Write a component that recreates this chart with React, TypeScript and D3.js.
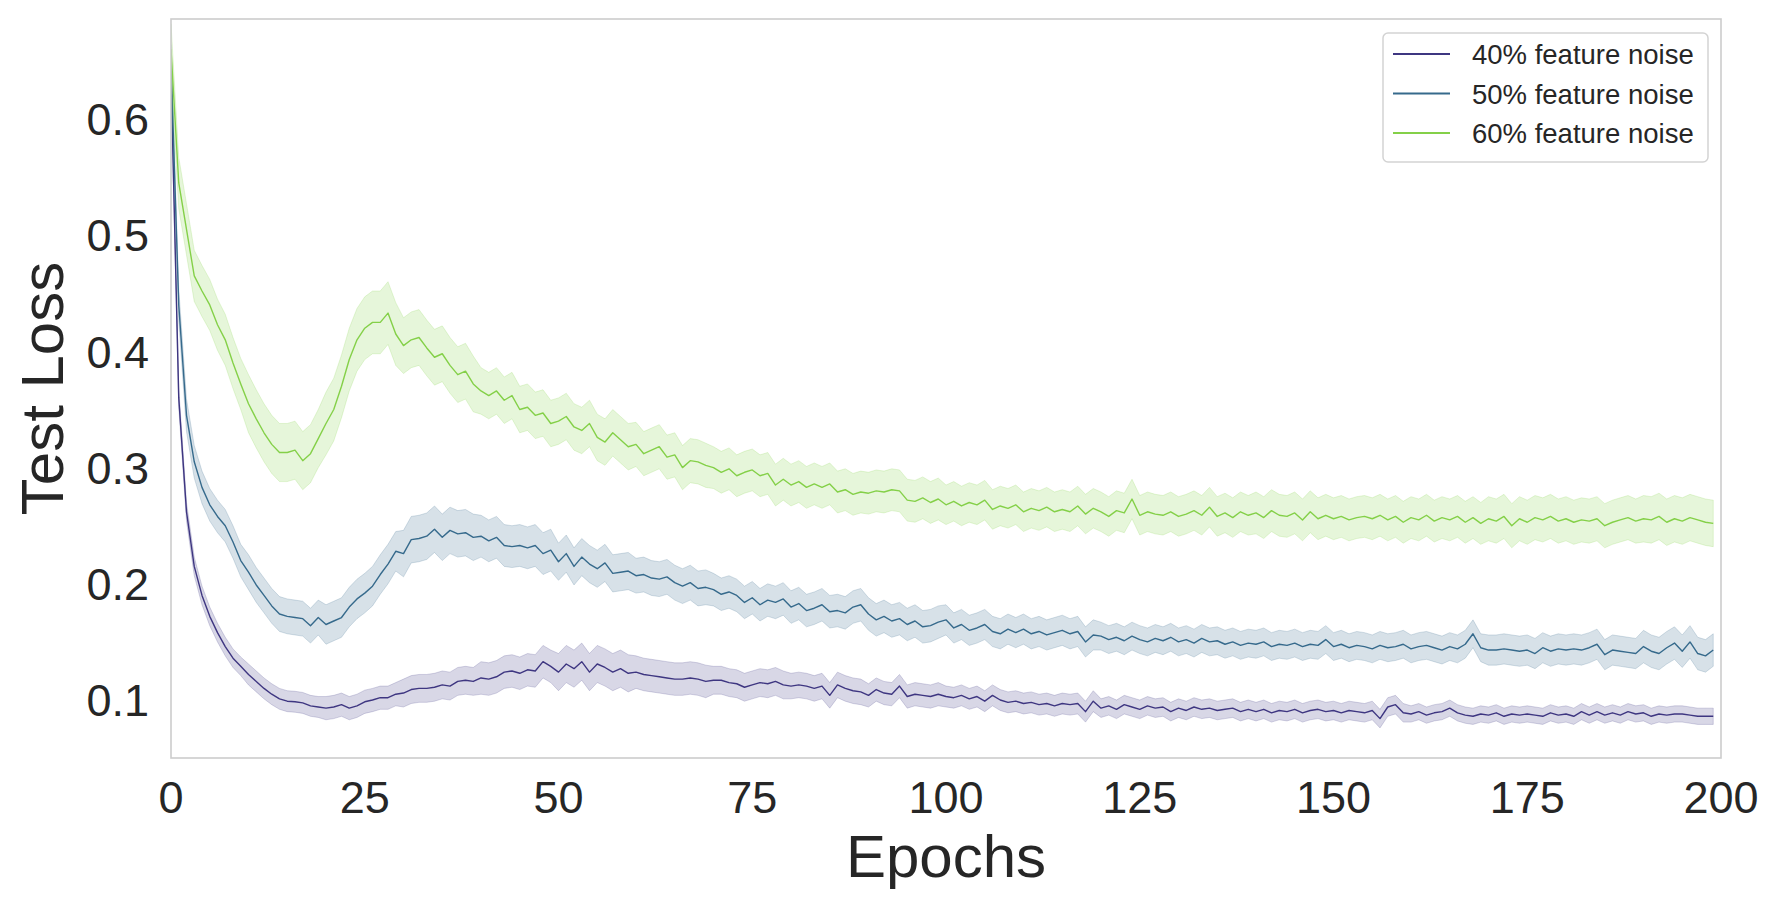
import React from "react";
import * as d3 from "d3";

// epochs 0..199, mean test loss per run
const loss40 = [
  0.640, 0.360, 0.262, 0.215, 0.190, 0.172, 0.158, 0.146, 0.136, 0.129,
  0.122, 0.116, 0.110, 0.105, 0.101, 0.099, 0.0985, 0.0975, 0.095, 0.094,
  0.093, 0.094, 0.096, 0.093, 0.095, 0.0985, 0.100, 0.102, 0.102, 0.105,
  0.106, 0.109, 0.110, 0.110, 0.111, 0.113, 0.112, 0.116, 0.117, 0.116,
  0.119, 0.118, 0.120, 0.124, 0.125, 0.123, 0.126, 0.125, 0.133, 0.129,
  0.124, 0.131, 0.127, 0.133, 0.124, 0.131, 0.128, 0.124, 0.127, 0.123,
  0.124, 0.122, 0.121, 0.120, 0.119, 0.118, 0.118, 0.119, 0.118, 0.116,
  0.117, 0.117, 0.115, 0.114, 0.111, 0.113, 0.115, 0.114, 0.116, 0.113,
  0.112, 0.113, 0.112, 0.110, 0.112, 0.104, 0.113, 0.110, 0.108, 0.107,
  0.104, 0.109, 0.106, 0.105, 0.112, 0.103, 0.105, 0.104, 0.103, 0.105,
  0.103, 0.102, 0.104, 0.101, 0.103, 0.099, 0.104, 0.100, 0.098, 0.099,
  0.097, 0.098, 0.096, 0.097, 0.095, 0.097, 0.096, 0.097, 0.090, 0.099,
  0.093, 0.095, 0.092, 0.096, 0.094, 0.092, 0.095, 0.093, 0.094, 0.090,
  0.093, 0.091, 0.094, 0.092, 0.093, 0.091, 0.092, 0.093, 0.090, 0.092,
  0.090, 0.092, 0.089, 0.091, 0.090, 0.092, 0.089, 0.091, 0.092, 0.090,
  0.091, 0.089, 0.091, 0.090, 0.089, 0.091, 0.084, 0.094, 0.096, 0.089,
  0.088, 0.090, 0.087, 0.089, 0.090, 0.093, 0.089, 0.087, 0.086, 0.088,
  0.087, 0.089, 0.086, 0.088, 0.087, 0.088, 0.087, 0.086, 0.089, 0.087,
  0.088, 0.086, 0.090, 0.087, 0.090, 0.087, 0.089, 0.087, 0.090, 0.088,
  0.089, 0.086, 0.088, 0.087, 0.088, 0.088, 0.087, 0.086, 0.086, 0.086,
];

const loss50 = [
  0.650, 0.440, 0.345, 0.305, 0.283, 0.268, 0.258, 0.250, 0.236, 0.220,
  0.210, 0.199, 0.190, 0.181, 0.174, 0.172, 0.171, 0.170, 0.164, 0.171,
  0.165, 0.168, 0.171, 0.180, 0.187, 0.192, 0.198, 0.208, 0.217, 0.228,
  0.226, 0.238, 0.239, 0.241, 0.247, 0.240, 0.246, 0.243, 0.244, 0.240,
  0.241, 0.237, 0.240, 0.233, 0.232, 0.233, 0.231, 0.233, 0.226, 0.229,
  0.219, 0.226, 0.215, 0.223, 0.217, 0.213, 0.218, 0.209, 0.210, 0.211,
  0.207, 0.208, 0.205, 0.204, 0.206, 0.201, 0.198, 0.201, 0.196, 0.197,
  0.195, 0.191, 0.193, 0.190, 0.184, 0.188, 0.182, 0.186, 0.184, 0.187,
  0.180, 0.183, 0.177, 0.179, 0.182, 0.176, 0.177, 0.175, 0.180, 0.182,
  0.174, 0.169, 0.172, 0.168, 0.170, 0.165, 0.168, 0.163, 0.164, 0.167,
  0.169, 0.162, 0.165, 0.160, 0.162, 0.165, 0.159, 0.157, 0.161, 0.158,
  0.161, 0.157, 0.159, 0.156, 0.158, 0.160, 0.157, 0.159, 0.150, 0.156,
  0.155, 0.152, 0.154, 0.151, 0.155, 0.152, 0.150, 0.153, 0.151, 0.154,
  0.150, 0.152, 0.149, 0.153, 0.150, 0.151, 0.148, 0.150, 0.147, 0.149,
  0.148, 0.150, 0.146, 0.148, 0.147, 0.149, 0.146, 0.148, 0.147, 0.152,
  0.146, 0.148, 0.145, 0.147, 0.146, 0.144, 0.147, 0.145, 0.146, 0.148,
  0.144, 0.146, 0.147, 0.145, 0.143, 0.146, 0.144, 0.148, 0.157, 0.145,
  0.143, 0.143, 0.144, 0.143, 0.142, 0.143, 0.140, 0.145, 0.142, 0.144,
  0.143, 0.144, 0.143, 0.145, 0.148, 0.139, 0.143, 0.142, 0.141, 0.140,
  0.146, 0.142, 0.140, 0.145, 0.149, 0.142, 0.150, 0.140, 0.138, 0.143,
];

const loss60 = [
  0.660, 0.545, 0.505, 0.465, 0.452, 0.440, 0.423, 0.410, 0.390, 0.372,
  0.355, 0.342, 0.330, 0.320, 0.313, 0.313, 0.315, 0.306, 0.312, 0.325,
  0.338, 0.350, 0.370, 0.393, 0.410, 0.420, 0.425, 0.425, 0.433, 0.415,
  0.405, 0.410, 0.412, 0.403, 0.395, 0.398, 0.388, 0.380, 0.383, 0.372,
  0.366, 0.362, 0.366, 0.358, 0.362, 0.350, 0.352, 0.345, 0.347, 0.338,
  0.340, 0.344, 0.335, 0.332, 0.338, 0.326, 0.322, 0.330, 0.324, 0.318,
  0.320, 0.312, 0.315, 0.318, 0.309, 0.311, 0.300, 0.306, 0.305, 0.302,
  0.300, 0.296, 0.299, 0.293, 0.296, 0.298, 0.293, 0.295, 0.285, 0.290,
  0.285, 0.288, 0.283, 0.286, 0.283, 0.286, 0.279, 0.281, 0.277, 0.279,
  0.278, 0.280, 0.279, 0.281, 0.280, 0.272, 0.271, 0.274, 0.270, 0.273,
  0.268, 0.271, 0.267, 0.270, 0.268, 0.272, 0.264, 0.267, 0.265, 0.268,
  0.262, 0.265, 0.263, 0.266, 0.262, 0.264, 0.262, 0.267, 0.260, 0.265,
  0.262, 0.258, 0.263, 0.261, 0.273, 0.259, 0.262, 0.260, 0.259, 0.262,
  0.258, 0.260, 0.263, 0.259, 0.266, 0.258, 0.261, 0.257, 0.262, 0.259,
  0.261, 0.257, 0.263, 0.259, 0.258, 0.261, 0.255, 0.262, 0.256, 0.259,
  0.256, 0.258, 0.255, 0.257, 0.258, 0.256, 0.259, 0.255, 0.258, 0.253,
  0.257, 0.255, 0.259, 0.254, 0.257, 0.255, 0.258, 0.253, 0.257, 0.252,
  0.256, 0.254, 0.258, 0.250, 0.256, 0.253, 0.257, 0.255, 0.258, 0.254,
  0.256, 0.253, 0.255, 0.254, 0.256, 0.250, 0.253, 0.255, 0.257, 0.254,
  0.256, 0.255, 0.258, 0.253, 0.256, 0.254, 0.257, 0.255, 0.253, 0.252,
];

// half width of the shaded band, one value per block of 10 epochs
const band40 = [0.008, 0.009, 0.010, 0.012, 0.014, 0.016, 0.014, 0.012, 0.011, 0.010,
  0.009, 0.009, 0.008, 0.008, 0.008, 0.008, 0.007, 0.007, 0.007, 0.007];
const band50 = [0.014, 0.015, 0.017, 0.020, 0.018, 0.016, 0.015, 0.014, 0.014, 0.014,
  0.013, 0.013, 0.012, 0.012, 0.012, 0.012, 0.012, 0.013, 0.013, 0.014];
const band60 = [0.022, 0.025, 0.027, 0.024, 0.020, 0.020, 0.019, 0.018, 0.018, 0.018,
  0.017, 0.017, 0.017, 0.017, 0.018, 0.018, 0.018, 0.019, 0.019, 0.020];

const seriesNames = ["40% feature noise", "50% feature noise", "60% feature noise"];
const seriesColors = ["#3e3681", "#366a8c", "#84d048"];
const xTicks = [0, 25, 50, 75, 100, 125, 150, 175, 200];
const yTicks = [0.1, 0.2, 0.3, 0.4, 0.5, 0.6];

const W = 1780;
const H = 907;
const margin = { left: 171, right: 59, top: 19, bottom: 149 };
const FONT = "'Liberation Sans', Arial, sans-serif";

type Pt = { x: number; y: number; lo: number; hi: number };

export default function App() {
  const x = d3.scaleLinear().domain([0, 200]).range([margin.left, W - margin.right]);
  const y = d3.scaleLinear().domain([0.0501, 0.6861]).range([H - margin.bottom, margin.top]);

  const all = [loss40, loss50, loss60];
  const bands = [band40, band50, band60];
  const series: Pt[][] = all.map((arr, k) =>
    arr.map((v, i) => {
      const h = bands[k][Math.floor(i / 10)];
      return { x: i, y: v, lo: v - h, hi: v + h };
    })
  );

  const line = d3.line<Pt>().x(d => x(d.x)).y(d => y(d.y));
  const area = d3.area<Pt>().x(d => x(d.x)).y0(d => y(d.lo)).y1(d => y(d.hi));

  const [x0, x1] = x.range();
  const [y0, y1] = y.range();

  // legend geometry
  const lg = { x: 1383, y: 33, w: 325, h: 129 };

  return (
    <svg width={W} height={H} style={{ position: "absolute", left: 0, top: 0, background: "#fff" }}
      fontFamily={FONT}>
      <rect x={0} y={0} width={W} height={H} fill="#fff" />
      <defs>
        <clipPath id="plot">
          <rect x={x0} y={y1} width={x1 - x0} height={y0 - y1} />
        </clipPath>
      </defs>

      <g clipPath="url(#plot)">
        {series.map((s, k) => (
          <g key={k}>
            <path d={area(s) || ""} fill={seriesColors[k]} fillOpacity={0.2}
              stroke={seriesColors[k]} strokeOpacity={0.2} strokeWidth={1} />
            <path d={line(s) || ""} fill="none" stroke={seriesColors[k]} strokeWidth={1.4}
              strokeLinejoin="round" />
          </g>
        ))}
      </g>

      {/* frame */}
      <rect x={x0} y={y1} width={x1 - x0} height={y0 - y1} fill="none" stroke="#cccccc" strokeWidth={1.6} />

      {/* y ticks */}
      {yTicks.map(t => (
        <text key={t} x={x0 - 22} y={y(t)} dy="0.36em" textAnchor="end" fontSize={45} fill="#262626">
          {t.toFixed(1)}
        </text>
      ))}
      {/* x ticks */}
      {xTicks.map(t => (
        <text key={t} x={x(t)} y={813} textAnchor="middle" fontSize={45} fill="#262626">
          {t}
        </text>
      ))}

      <text x={(x0 + x1) / 2} y={877} textAnchor="middle" fontSize={60} fill="#262626">Epochs</text>
      <text transform={`translate(63, ${(y0 + y1) / 2}) rotate(-90)`} textAnchor="middle" fontSize={60}
        fill="#262626">Test Loss</text>

      {/* legend */}
      <rect x={lg.x} y={lg.y} width={lg.w} height={lg.h} rx={5} fill="#fff" fillOpacity={0.8}
        stroke="#d3d3d3" strokeWidth={1.5} />
      {seriesNames.map((name, k) => {
        const ly = 54 + k * 39.5;
        return (
          <g key={name}>
            <line x1={1393} x2={1450} y1={ly} y2={ly} stroke={seriesColors[k]} strokeWidth={2} />
            <text x={1472} y={ly + 10} fontSize={27.5} fill="#262626">{name}</text>
          </g>
        );
      })}
    </svg>
  );
}
